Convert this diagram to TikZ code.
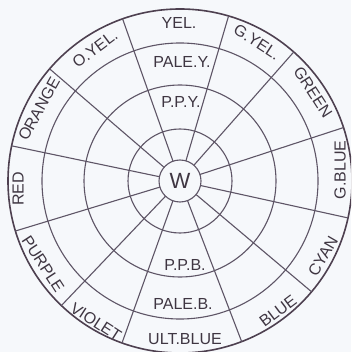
\documentclass[tikz,border=0pt]{standalone}
\usepackage{fontspec}
\setmainfont{Liberation Sans}
\definecolor{bgc}{HTML}{F6F8FB}
\definecolor{linec}{HTML}{5E5566}
\definecolor{outc}{HTML}{4E4050}
\definecolor{textc}{HTML}{3F3642}
\begin{document}
\begin{tikzpicture}[x=1pt,y=1pt,
  ring/.style={draw=linec, line width=1.1pt},
  outring/.style={draw=outc, line width=1.6pt},
  spoke/.style={draw=linec, line width=1.1pt},
  lbl/.style={text=textc, font=\fontsize{16}{16}\selectfont, inner sep=0pt},
  wlbl/.style={circle, draw=linec, line width=1.1pt, text=textc, minimum size=42pt, inner sep=0pt, font=\fontsize{22}{22}\selectfont}
]
\fill[bgc] (0,0) rectangle (351,-352);
\useasboundingbox (0,0) rectangle (351,-352);
\clip (0,0) rectangle (351,-352);
\coordinate (C) at (180,-181);
\begin{scope}[shift={(C)}]
  \foreach \r in {52,96,138} \draw[ring] (0,0) circle (\r);
  \draw[outring] (0,0) circle (172);
  \foreach \a in {18.1,48.6,73.6,109.5,139.3,168.2,196.9,226.4,250.3,291.0,319.9,347.6}
    \draw[spoke] (\a:21) -- (\a:172);
  \node[wlbl] (W) at (0,0) {W};
\end{scope}
% outer ring labels
\node[lbl] (yel)   at (179,-23)  {YEL.};
\node[lbl, rotate=-33] (gyel) at (257,-42) {G.YEL.};
\node[lbl, rotate=-57] (green) at (313,-92) {GREEN};
\node[lbl, rotate=90] (gblue) at (340,-170) {G.BLUE};
\node[lbl, rotate=60] (cyan) at (323,-256) {CYAN};
\node[lbl, rotate=37] (blue) at (278,-311) {BLUE};
\node[lbl] (ultblue) at (185,-339) {ULT.BLUE};
\node[lbl, rotate=-33] (violet) at (96,-322) {VIOLET};
\node[lbl, rotate=-57] (purple) at (43,-264) {PURPLE};
\node[lbl, rotate=90] (red) at (18,-189) {RED};
\node[lbl, rotate=61] (orange) at (39,-109) {ORANGE};
\node[lbl, rotate=37] (oyel) at (95,-49) {O.YEL.};
% inner labels
\node[lbl] (paley) at (182,-62) {PALE.Y.};
\node[lbl] (ppy) at (181,-102) {P.P.Y.};
\node[lbl] (ppb) at (185,-265) {P.P.B.};
\node[lbl] (paleb) at (183,-304) {PALE.B.};
\end{tikzpicture}
\end{document}
